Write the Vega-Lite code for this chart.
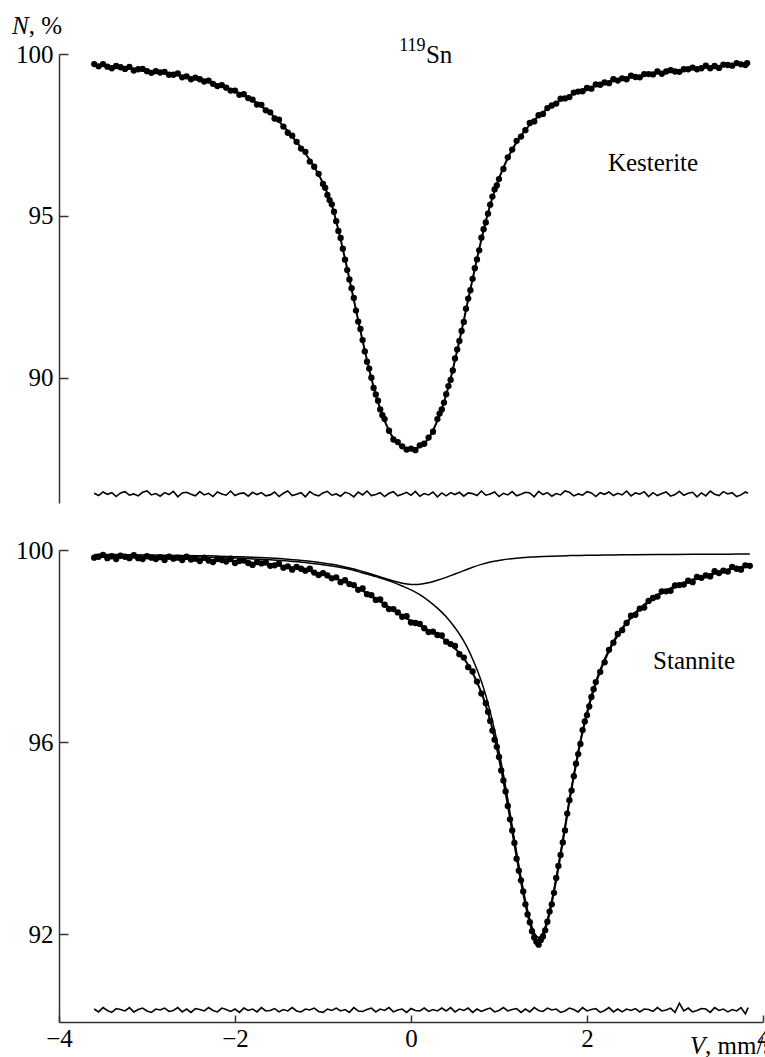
{
  "$schema": "https://vega.github.io/schema/vega-lite/v6.json",
  "background": "white",
  "padding": {"left": 12, "top": 13, "right": 0, "bottom": 0},
  "bounds": "flush",
  "spacing": 47,
  "config": {
    "font": "Liberation Serif",
    "view": {"stroke": null},
    "axis": {"grid": false, "domainColor": "#333333", "domainWidth": 1.5, "tickColor": "#333333", "tickWidth": 1.5, "labelColor": "black", "labelFont": "Liberation Serif", "labelFontSize": 25, "labelFlush": false, "labelOverlap": false, "title": null},
    "text": {"font": "Liberation Serif", "fontSize": 25, "color": "black", "baseline": "alphabetic"}
  },
  "datasets": {
    "topdata": [{"v":-3.6,"n":99.69},{"v":-3.55,"n":99.62},{"v":-3.5,"n":99.69},{"v":-3.45,"n":99.61},{"v":-3.4,"n":99.56},{"v":-3.35,"n":99.63},{"v":-3.3,"n":99.59},{"v":-3.25,"n":99.54},{"v":-3.2,"n":99.6},{"v":-3.15,"n":99.49},{"v":-3.1,"n":99.53},{"v":-3.05,"n":99.54},{"v":-3.0,"n":99.47},{"v":-2.95,"n":99.42},{"v":-2.9,"n":99.47},{"v":-2.85,"n":99.43},{"v":-2.8,"n":99.45},{"v":-2.75,"n":99.36},{"v":-2.7,"n":99.36},{"v":-2.65,"n":99.4},{"v":-2.6,"n":99.28},{"v":-2.55,"n":99.31},{"v":-2.5,"n":99.22},{"v":-2.45,"n":99.27},{"v":-2.4,"n":99.22},{"v":-2.35,"n":99.15},{"v":-2.3,"n":99.18},{"v":-2.25,"n":99.08},{"v":-2.2,"n":99.01},{"v":-2.15,"n":99.04},{"v":-2.1,"n":98.96},{"v":-2.05,"n":98.87},{"v":-2.0,"n":98.87},{"v":-1.95,"n":98.74},{"v":-1.9,"n":98.76},{"v":-1.85,"n":98.64},{"v":-1.8,"n":98.59},{"v":-1.75,"n":98.44},{"v":-1.7,"n":98.43},{"v":-1.65,"n":98.26},{"v":-1.6,"n":98.2},{"v":-1.55,"n":98.01},{"v":-1.5,"n":97.97},{"v":-1.45,"n":97.76},{"v":-1.4,"n":97.57},{"v":-1.35,"n":97.48},{"v":-1.3,"n":97.29},{"v":-1.25,"n":97.08},{"v":-1.2,"n":96.98},{"v":-1.15,"n":96.68},{"v":-1.1,"n":96.52},{"v":-1.05,"n":96.3},{"v":-1.0,"n":95.99},{"v":-0.975,"n":95.87},{"v":-0.95,"n":95.65},{"v":-0.925,"n":95.49},{"v":-0.9,"n":95.36},{"v":-0.875,"n":95.13},{"v":-0.85,"n":94.84},{"v":-0.825,"n":94.54},{"v":-0.8,"n":94.32},{"v":-0.775,"n":93.99},{"v":-0.75,"n":93.65},{"v":-0.725,"n":93.33},{"v":-0.7,"n":93.04},{"v":-0.675,"n":92.77},{"v":-0.65,"n":92.47},{"v":-0.625,"n":92.08},{"v":-0.6,"n":91.74},{"v":-0.575,"n":91.51},{"v":-0.55,"n":91.17},{"v":-0.525,"n":90.82},{"v":-0.5,"n":90.5},{"v":-0.475,"n":90.29},{"v":-0.45,"n":90.01},{"v":-0.425,"n":89.69},{"v":-0.4,"n":89.49},{"v":-0.375,"n":89.3},{"v":-0.35,"n":89.03},{"v":-0.325,"n":88.85},{"v":-0.3,"n":88.73},{"v":-0.25,"n":88.37},{"v":-0.2,"n":88.1},{"v":-0.15,"n":88.02},{"v":-0.1,"n":87.89},{"v":-0.05,"n":87.79},{"v":0,"n":87.82},{"v":0.05,"n":87.77},{"v":0.1,"n":87.92},{"v":0.15,"n":87.97},{"v":0.2,"n":88.16},{"v":0.25,"n":88.34},{"v":0.3,"n":88.73},{"v":0.325,"n":88.9},{"v":0.35,"n":89.03},{"v":0.375,"n":89.24},{"v":0.4,"n":89.5},{"v":0.425,"n":89.75},{"v":0.45,"n":89.94},{"v":0.475,"n":90.23},{"v":0.5,"n":90.6},{"v":0.525,"n":90.88},{"v":0.55,"n":91.14},{"v":0.575,"n":91.45},{"v":0.6,"n":91.73},{"v":0.625,"n":92.14},{"v":0.65,"n":92.45},{"v":0.675,"n":92.71},{"v":0.7,"n":93.06},{"v":0.725,"n":93.39},{"v":0.75,"n":93.66},{"v":0.775,"n":93.94},{"v":0.8,"n":94.33},{"v":0.825,"n":94.59},{"v":0.85,"n":94.8},{"v":0.875,"n":95.07},{"v":0.9,"n":95.35},{"v":0.925,"n":95.6},{"v":0.95,"n":95.82},{"v":0.975,"n":95.94},{"v":1.0,"n":96.14},{"v":1.05,"n":96.45},{"v":1.1,"n":96.81},{"v":1.15,"n":97.05},{"v":1.2,"n":97.32},{"v":1.25,"n":97.45},{"v":1.3,"n":97.65},{"v":1.35,"n":97.87},{"v":1.4,"n":97.92},{"v":1.45,"n":98.11},{"v":1.5,"n":98.15},{"v":1.55,"n":98.33},{"v":1.6,"n":98.41},{"v":1.65,"n":98.47},{"v":1.7,"n":98.62},{"v":1.75,"n":98.63},{"v":1.8,"n":98.67},{"v":1.85,"n":98.81},{"v":1.9,"n":98.84},{"v":1.95,"n":98.85},{"v":2.0,"n":98.95},{"v":2.05,"n":98.93},{"v":2.1,"n":99.06},{"v":2.15,"n":99.05},{"v":2.2,"n":99.12},{"v":2.25,"n":99.1},{"v":2.3,"n":99.22},{"v":2.35,"n":99.18},{"v":2.4,"n":99.25},{"v":2.45,"n":99.22},{"v":2.5,"n":99.33},{"v":2.55,"n":99.29},{"v":2.6,"n":99.28},{"v":2.65,"n":99.38},{"v":2.7,"n":99.38},{"v":2.75,"n":99.37},{"v":2.8,"n":99.46},{"v":2.85,"n":99.39},{"v":2.9,"n":99.46},{"v":2.95,"n":99.5},{"v":3.0,"n":99.46},{"v":3.05,"n":99.45},{"v":3.1,"n":99.53},{"v":3.15,"n":99.53},{"v":3.2,"n":99.58},{"v":3.25,"n":99.53},{"v":3.3,"n":99.56},{"v":3.35,"n":99.64},{"v":3.4,"n":99.56},{"v":3.45,"n":99.63},{"v":3.5,"n":99.57},{"v":3.55,"n":99.67},{"v":3.6,"n":99.66},{"v":3.65,"n":99.64},{"v":3.7,"n":99.72},{"v":3.75,"n":99.68},{"v":3.8,"n":99.66},{"v":3.82,"n":99.72}],
    "topfit": [{"v":-3.6,"n":99.67},{"v":-3.5,"n":99.64},{"v":-3.4,"n":99.61},{"v":-3.3,"n":99.58},{"v":-3.2,"n":99.55},{"v":-3.1,"n":99.52},{"v":-3.0,"n":99.49},{"v":-2.9,"n":99.45},{"v":-2.8,"n":99.41},{"v":-2.7,"n":99.37},{"v":-2.6,"n":99.32},{"v":-2.5,"n":99.27},{"v":-2.4,"n":99.21},{"v":-2.3,"n":99.13},{"v":-2.2,"n":99.05},{"v":-2.1,"n":98.95},{"v":-2.0,"n":98.85},{"v":-1.9,"n":98.72},{"v":-1.8,"n":98.57},{"v":-1.7,"n":98.38},{"v":-1.6,"n":98.18},{"v":-1.5,"n":97.92},{"v":-1.4,"n":97.62},{"v":-1.3,"n":97.28},{"v":-1.2,"n":96.93},{"v":-1.1,"n":96.51},{"v":-1.0,"n":96.01},{"v":-0.95,"n":95.7},{"v":-0.9,"n":95.34},{"v":-0.85,"n":94.84},{"v":-0.8,"n":94.28},{"v":-0.75,"n":93.68},{"v":-0.7,"n":93.05},{"v":-0.65,"n":92.42},{"v":-0.6,"n":91.78},{"v":-0.55,"n":91.15},{"v":-0.5,"n":90.55},{"v":-0.45,"n":89.98},{"v":-0.4,"n":89.48},{"v":-0.35,"n":89.05},{"v":-0.3,"n":88.68},{"v":-0.25,"n":88.38},{"v":-0.2,"n":88.14},{"v":-0.15,"n":87.98},{"v":-0.1,"n":87.88},{"v":-0.05,"n":87.82},{"v":0,"n":87.8},{"v":0.05,"n":87.82},{"v":0.1,"n":87.88},{"v":0.15,"n":87.98},{"v":0.2,"n":88.14},{"v":0.25,"n":88.38},{"v":0.3,"n":88.68},{"v":0.35,"n":89.05},{"v":0.4,"n":89.48},{"v":0.45,"n":89.98},{"v":0.5,"n":90.55},{"v":0.55,"n":91.15},{"v":0.6,"n":91.78},{"v":0.65,"n":92.42},{"v":0.7,"n":93.05},{"v":0.75,"n":93.68},{"v":0.8,"n":94.28},{"v":0.85,"n":94.84},{"v":0.9,"n":95.34},{"v":0.95,"n":95.78},{"v":1.0,"n":96.16},{"v":1.1,"n":96.79},{"v":1.2,"n":97.28},{"v":1.3,"n":97.66},{"v":1.4,"n":97.96},{"v":1.5,"n":98.2},{"v":1.6,"n":98.4},{"v":1.7,"n":98.57},{"v":1.8,"n":98.71},{"v":1.9,"n":98.83},{"v":2.0,"n":98.93},{"v":2.1,"n":99.02},{"v":2.2,"n":99.1},{"v":2.3,"n":99.17},{"v":2.4,"n":99.23},{"v":2.5,"n":99.28},{"v":2.6,"n":99.33},{"v":2.7,"n":99.37},{"v":2.8,"n":99.41},{"v":2.9,"n":99.45},{"v":3.0,"n":99.48},{"v":3.1,"n":99.51},{"v":3.2,"n":99.54},{"v":3.3,"n":99.57},{"v":3.4,"n":99.6},{"v":3.5,"n":99.625},{"v":3.6,"n":99.65},{"v":3.7,"n":99.675},{"v":3.82,"n":99.7}],
    "topres": [{"v":-3.6,"n":86.44},{"v":-3.55,"n":86.37},{"v":-3.5,"n":86.48},{"v":-3.45,"n":86.41},{"v":-3.4,"n":86.46},{"v":-3.35,"n":86.34},{"v":-3.3,"n":86.45},{"v":-3.25,"n":86.49},{"v":-3.2,"n":86.38},{"v":-3.15,"n":86.42},{"v":-3.1,"n":86.36},{"v":-3.05,"n":86.47},{"v":-3.0,"n":86.51},{"v":-2.95,"n":86.39},{"v":-2.9,"n":86.43},{"v":-2.85,"n":86.35},{"v":-2.8,"n":86.46},{"v":-2.75,"n":86.4},{"v":-2.7,"n":86.5},{"v":-2.65,"n":86.33},{"v":-2.6,"n":86.45},{"v":-2.55,"n":86.47},{"v":-2.5,"n":86.41},{"v":-2.45,"n":86.36},{"v":-2.4,"n":86.49},{"v":-2.35,"n":86.39},{"v":-2.3,"n":86.44},{"v":-2.25,"n":86.34},{"v":-2.2,"n":86.48},{"v":-2.15,"n":86.42},{"v":-2.1,"n":86.38},{"v":-2.05,"n":86.51},{"v":-2.0,"n":86.37},{"v":-1.95,"n":86.43},{"v":-1.9,"n":86.45},{"v":-1.85,"n":86.35},{"v":-1.8,"n":86.47},{"v":-1.75,"n":86.4},{"v":-1.7,"n":86.46},{"v":-1.65,"n":86.36},{"v":-1.6,"n":86.39},{"v":-1.55,"n":86.48},{"v":-1.5,"n":86.34},{"v":-1.45,"n":86.44},{"v":-1.4,"n":86.51},{"v":-1.35,"n":86.37},{"v":-1.3,"n":86.41},{"v":-1.25,"n":86.46},{"v":-1.2,"n":86.33},{"v":-1.15,"n":86.49},{"v":-1.1,"n":86.4},{"v":-1.05,"n":86.36},{"v":-1.0,"n":86.45},{"v":-0.95,"n":86.5},{"v":-0.9,"n":86.38},{"v":-0.85,"n":86.42},{"v":-0.8,"n":86.35},{"v":-0.75,"n":86.47},{"v":-0.7,"n":86.43},{"v":-0.65,"n":86.33},{"v":-0.6,"n":86.48},{"v":-0.55,"n":86.39},{"v":-0.5,"n":86.51},{"v":-0.45,"n":86.37},{"v":-0.4,"n":86.4},{"v":-0.35,"n":86.46},{"v":-0.3,"n":86.34},{"v":-0.25,"n":86.44},{"v":-0.2,"n":86.49},{"v":-0.15,"n":86.36},{"v":-0.1,"n":86.41},{"v":-0.05,"n":86.47},{"v":0,"n":86.38},{"v":0.05,"n":86.5},{"v":0.1,"n":86.35},{"v":0.15,"n":86.43},{"v":0.2,"n":86.39},{"v":0.25,"n":86.48},{"v":0.3,"n":86.33},{"v":0.35,"n":86.45},{"v":0.4,"n":86.36},{"v":0.45,"n":86.46},{"v":0.5,"n":86.4},{"v":0.55,"n":86.47},{"v":0.6,"n":86.35},{"v":0.65,"n":86.45},{"v":0.7,"n":86.43},{"v":0.75,"n":86.37},{"v":0.8,"n":86.51},{"v":0.85,"n":86.38},{"v":0.9,"n":86.42},{"v":0.95,"n":86.48},{"v":1.0,"n":86.34},{"v":1.05,"n":86.44},{"v":1.1,"n":86.39},{"v":1.15,"n":86.49},{"v":1.2,"n":86.36},{"v":1.25,"n":86.41},{"v":1.3,"n":86.47},{"v":1.35,"n":86.45},{"v":1.4,"n":86.33},{"v":1.45,"n":86.5},{"v":1.5,"n":86.4},{"v":1.55,"n":86.46},{"v":1.6,"n":86.35},{"v":1.65,"n":86.43},{"v":1.7,"n":86.39},{"v":1.75,"n":86.51},{"v":1.8,"n":86.47},{"v":1.85,"n":86.36},{"v":1.9,"n":86.42},{"v":1.95,"n":86.38},{"v":2.0,"n":86.49},{"v":2.05,"n":86.45},{"v":2.1,"n":86.34},{"v":2.15,"n":86.46},{"v":2.2,"n":86.41},{"v":2.25,"n":86.48},{"v":2.3,"n":86.37},{"v":2.35,"n":86.44},{"v":2.4,"n":86.39},{"v":2.45,"n":86.51},{"v":2.5,"n":86.36},{"v":2.55,"n":86.45},{"v":2.6,"n":86.41},{"v":2.65,"n":86.49},{"v":2.7,"n":86.34},{"v":2.75,"n":86.46},{"v":2.8,"n":86.37},{"v":2.85,"n":86.43},{"v":2.9,"n":86.48},{"v":2.95,"n":86.35},{"v":3.0,"n":86.4},{"v":3.05,"n":86.5},{"v":3.1,"n":86.38},{"v":3.15,"n":86.44},{"v":3.2,"n":86.47},{"v":3.25,"n":86.33},{"v":3.3,"n":86.45},{"v":3.35,"n":86.36},{"v":3.4,"n":86.51},{"v":3.45,"n":86.41},{"v":3.5,"n":86.37},{"v":3.55,"n":86.49},{"v":3.6,"n":86.42},{"v":3.65,"n":86.46},{"v":3.7,"n":86.34},{"v":3.75,"n":86.39},{"v":3.8,"n":86.48},{"v":3.83,"n":86.44}],
    "botdata": [{"v":-3.6,"n":99.84},{"v":-3.55,"n":99.86},{"v":-3.5,"n":99.9},{"v":-3.45,"n":99.83},{"v":-3.4,"n":99.87},{"v":-3.35,"n":99.81},{"v":-3.3,"n":99.88},{"v":-3.25,"n":99.86},{"v":-3.2,"n":99.83},{"v":-3.15,"n":99.89},{"v":-3.1,"n":99.83},{"v":-3.05,"n":99.81},{"v":-3.0,"n":99.87},{"v":-2.95,"n":99.84},{"v":-2.9,"n":99.81},{"v":-2.85,"n":99.85},{"v":-2.8,"n":99.79},{"v":-2.75,"n":99.86},{"v":-2.7,"n":99.82},{"v":-2.65,"n":99.84},{"v":-2.6,"n":99.79},{"v":-2.55,"n":99.86},{"v":-2.5,"n":99.8},{"v":-2.45,"n":99.82},{"v":-2.4,"n":99.77},{"v":-2.35,"n":99.84},{"v":-2.3,"n":99.78},{"v":-2.25,"n":99.75},{"v":-2.2,"n":99.81},{"v":-2.15,"n":99.79},{"v":-2.1,"n":99.76},{"v":-2.05,"n":99.82},{"v":-2.0,"n":99.73},{"v":-1.95,"n":99.77},{"v":-1.9,"n":99.78},{"v":-1.85,"n":99.73},{"v":-1.8,"n":99.69},{"v":-1.75,"n":99.75},{"v":-1.7,"n":99.72},{"v":-1.65,"n":99.74},{"v":-1.6,"n":99.67},{"v":-1.55,"n":99.68},{"v":-1.5,"n":99.72},{"v":-1.45,"n":99.63},{"v":-1.4,"n":99.66},{"v":-1.35,"n":99.59},{"v":-1.3,"n":99.65},{"v":-1.25,"n":99.61},{"v":-1.2,"n":99.57},{"v":-1.15,"n":99.61},{"v":-1.1,"n":99.53},{"v":-1.05,"n":99.48},{"v":-1.0,"n":99.52},{"v":-0.95,"n":99.47},{"v":-0.9,"n":99.41},{"v":-0.85,"n":99.43},{"v":-0.8,"n":99.33},{"v":-0.75,"n":99.37},{"v":-0.7,"n":99.29},{"v":-0.65,"n":99.27},{"v":-0.6,"n":99.17},{"v":-0.55,"n":99.2},{"v":-0.5,"n":99.08},{"v":-0.45,"n":99.06},{"v":-0.4,"n":98.96},{"v":-0.35,"n":98.97},{"v":-0.3,"n":98.86},{"v":-0.25,"n":98.77},{"v":-0.2,"n":98.77},{"v":-0.15,"n":98.7},{"v":-0.1,"n":98.61},{"v":-0.05,"n":98.62},{"v":0,"n":98.49},{"v":0.05,"n":98.48},{"v":0.1,"n":98.46},{"v":0.15,"n":98.37},{"v":0.2,"n":98.29},{"v":0.25,"n":98.3},{"v":0.3,"n":98.23},{"v":0.35,"n":98.22},{"v":0.4,"n":98.09},{"v":0.45,"n":98.04},{"v":0.5,"n":98.0},{"v":0.55,"n":97.83},{"v":0.6,"n":97.76},{"v":0.65,"n":97.56},{"v":0.7,"n":97.47},{"v":0.75,"n":97.26},{"v":0.8,"n":97.01},{"v":0.85,"n":96.81},{"v":0.875,"n":96.63},{"v":0.9,"n":96.44},{"v":0.925,"n":96.24},{"v":0.95,"n":96.05},{"v":0.975,"n":95.9},{"v":1.0,"n":95.69},{"v":1.025,"n":95.41},{"v":1.05,"n":95.2},{"v":1.075,"n":94.97},{"v":1.1,"n":94.67},{"v":1.125,"n":94.39},{"v":1.15,"n":94.16},{"v":1.175,"n":93.9},{"v":1.2,"n":93.57},{"v":1.225,"n":93.32},{"v":1.25,"n":93.12},{"v":1.275,"n":92.89},{"v":1.3,"n":92.62},{"v":1.325,"n":92.41},{"v":1.35,"n":92.25},{"v":1.375,"n":92.06},{"v":1.4,"n":91.93},{"v":1.425,"n":91.84},{"v":1.45,"n":91.78},{"v":1.475,"n":91.88},{"v":1.5,"n":91.95},{"v":1.525,"n":92.08},{"v":1.55,"n":92.26},{"v":1.575,"n":92.47},{"v":1.6,"n":92.62},{"v":1.625,"n":92.86},{"v":1.65,"n":93.17},{"v":1.675,"n":93.42},{"v":1.7,"n":93.65},{"v":1.725,"n":93.91},{"v":1.75,"n":94.16},{"v":1.775,"n":94.51},{"v":1.8,"n":94.79},{"v":1.825,"n":94.99},{"v":1.85,"n":95.29},{"v":1.875,"n":95.55},{"v":1.9,"n":95.75},{"v":1.925,"n":95.96},{"v":1.95,"n":96.25},{"v":1.975,"n":96.43},{"v":2.0,"n":96.56},{"v":2.025,"n":96.74},{"v":2.05,"n":96.94},{"v":2.075,"n":97.1},{"v":2.1,"n":97.25},{"v":2.15,"n":97.46},{"v":2.2,"n":97.66},{"v":2.25,"n":97.92},{"v":2.3,"n":98.07},{"v":2.35,"n":98.25},{"v":2.4,"n":98.33},{"v":2.45,"n":98.48},{"v":2.5,"n":98.63},{"v":2.55,"n":98.65},{"v":2.6,"n":98.78},{"v":2.65,"n":98.8},{"v":2.7,"n":98.94},{"v":2.75,"n":99.0},{"v":2.8,"n":99.03},{"v":2.85,"n":99.14},{"v":2.9,"n":99.14},{"v":2.95,"n":99.15},{"v":3.0,"n":99.26},{"v":3.05,"n":99.27},{"v":3.1,"n":99.28},{"v":3.15,"n":99.36},{"v":3.2,"n":99.33},{"v":3.25,"n":99.44},{"v":3.3,"n":99.42},{"v":3.35,"n":99.47},{"v":3.4,"n":99.45},{"v":3.45,"n":99.56},{"v":3.5,"n":99.52},{"v":3.55,"n":99.57},{"v":3.6,"n":99.55},{"v":3.65,"n":99.65},{"v":3.7,"n":99.61},{"v":3.75,"n":99.59},{"v":3.8,"n":99.68},{"v":3.85,"n":99.67}],
    "botfit": [{"v":-3.6,"n":99.862},{"v":-3.4,"n":99.855},{"v":-3.2,"n":99.848},{"v":-3.0,"n":99.84},{"v":-2.8,"n":99.83},{"v":-2.6,"n":99.82},{"v":-2.4,"n":99.803},{"v":-2.2,"n":99.785},{"v":-2.0,"n":99.764},{"v":-1.8,"n":99.734},{"v":-1.6,"n":99.696},{"v":-1.4,"n":99.649},{"v":-1.2,"n":99.585},{"v":-1.0,"n":99.492},{"v":-0.9,"n":99.436},{"v":-0.8,"n":99.372},{"v":-0.7,"n":99.297},{"v":-0.6,"n":99.201},{"v":-0.5,"n":99.098},{"v":-0.4,"n":98.985},{"v":-0.3,"n":98.87},{"v":-0.2,"n":98.749},{"v":-0.1,"n":98.629},{"v":0,"n":98.523},{"v":0.1,"n":98.425},{"v":0.2,"n":98.33},{"v":0.3,"n":98.23},{"v":0.4,"n":98.11},{"v":0.5,"n":97.95},{"v":0.55,"n":97.855},{"v":0.6,"n":97.74},{"v":0.65,"n":97.605},{"v":0.7,"n":97.44},{"v":0.75,"n":97.25},{"v":0.8,"n":97.03},{"v":0.85,"n":96.765},{"v":0.9,"n":96.45},{"v":0.95,"n":96.085},{"v":1.0,"n":95.66},{"v":1.05,"n":95.195},{"v":1.1,"n":94.69},{"v":1.15,"n":94.14},{"v":1.2,"n":93.61},{"v":1.25,"n":93.088},{"v":1.3,"n":92.625},{"v":1.35,"n":92.23},{"v":1.4,"n":91.955},{"v":1.45,"n":91.86},{"v":1.5,"n":91.965},{"v":1.55,"n":92.248},{"v":1.6,"n":92.652},{"v":1.65,"n":93.125},{"v":1.7,"n":93.658},{"v":1.75,"n":94.2},{"v":1.8,"n":94.763},{"v":1.85,"n":95.285},{"v":1.9,"n":95.767},{"v":1.95,"n":96.209},{"v":2.0,"n":96.59},{"v":2.05,"n":96.931},{"v":2.1,"n":97.223},{"v":2.15,"n":97.474},{"v":2.2,"n":97.695},{"v":2.25,"n":97.896},{"v":2.3,"n":98.068},{"v":2.35,"n":98.219},{"v":2.4,"n":98.35},{"v":2.45,"n":98.481},{"v":2.5,"n":98.581},{"v":2.6,"n":98.763},{"v":2.7,"n":98.915},{"v":2.8,"n":99.046},{"v":2.9,"n":99.147},{"v":3.0,"n":99.228},{"v":3.1,"n":99.304},{"v":3.2,"n":99.37},{"v":3.3,"n":99.426},{"v":3.4,"n":99.482},{"v":3.5,"n":99.533},{"v":3.6,"n":99.584},{"v":3.7,"n":99.62},{"v":3.85,"n":99.665}],
    "botmain": [{"v":-3.6,"n":99.885},{"v":-3.4,"n":99.881},{"v":-3.2,"n":99.877},{"v":-3.0,"n":99.872},{"v":-2.8,"n":99.867},{"v":-2.6,"n":99.862},{"v":-2.4,"n":99.852},{"v":-2.2,"n":99.842},{"v":-2.0,"n":99.832},{"v":-1.8,"n":99.815},{"v":-1.6,"n":99.795},{"v":-1.4,"n":99.772},{"v":-1.2,"n":99.74},{"v":-1.0,"n":99.692},{"v":-0.9,"n":99.665},{"v":-0.8,"n":99.635},{"v":-0.7,"n":99.6},{"v":-0.6,"n":99.55},{"v":-0.5,"n":99.5},{"v":-0.4,"n":99.445},{"v":-0.3,"n":99.39},{"v":-0.2,"n":99.325},{"v":-0.1,"n":99.25},{"v":0,"n":99.17},{"v":0.1,"n":99.07},{"v":0.2,"n":98.94},{"v":0.3,"n":98.79},{"v":0.4,"n":98.61},{"v":0.5,"n":98.38},{"v":0.55,"n":98.25},{"v":0.6,"n":98.1},{"v":0.65,"n":97.93},{"v":0.7,"n":97.73},{"v":0.75,"n":97.51},{"v":0.8,"n":97.26},{"v":0.85,"n":96.97},{"v":0.9,"n":96.63},{"v":0.95,"n":96.25},{"v":1.0,"n":95.81},{"v":1.05,"n":95.33},{"v":1.1,"n":94.81},{"v":1.15,"n":94.25},{"v":1.2,"n":93.71},{"v":1.25,"n":93.18},{"v":1.3,"n":92.71},{"v":1.35,"n":92.31},{"v":1.4,"n":92.03},{"v":1.45,"n":91.93},{"v":1.5,"n":92.03},{"v":1.55,"n":92.31},{"v":1.6,"n":92.71},{"v":1.65,"n":93.18},{"v":1.7,"n":93.71},{"v":1.75,"n":94.25},{"v":1.8,"n":94.81},{"v":1.85,"n":95.33},{"v":1.9,"n":95.81},{"v":1.95,"n":96.25},{"v":2.0,"n":96.63},{"v":2.05,"n":96.97},{"v":2.1,"n":97.26},{"v":2.15,"n":97.51},{"v":2.2,"n":97.73},{"v":2.25,"n":97.93},{"v":2.3,"n":98.1},{"v":2.35,"n":98.25},{"v":2.4,"n":98.38},{"v":2.5,"n":98.61},{"v":2.6,"n":98.79},{"v":2.7,"n":98.94},{"v":2.8,"n":99.07},{"v":2.9,"n":99.17},{"v":3.0,"n":99.25},{"v":3.1,"n":99.325},{"v":3.2,"n":99.39},{"v":3.3,"n":99.445},{"v":3.4,"n":99.5},{"v":3.5,"n":99.55},{"v":3.6,"n":99.6},{"v":3.7,"n":99.635},{"v":3.8,"n":99.665},{"v":3.85,"n":99.68}],
    "botbroad": [{"v":-3.6,"n":99.907},{"v":-3.2,"n":99.901},{"v":-2.8,"n":99.893},{"v":-2.4,"n":99.881},{"v":-2.2,"n":99.873},{"v":-2.0,"n":99.862},{"v":-1.8,"n":99.849},{"v":-1.6,"n":99.831},{"v":-1.4,"n":99.807},{"v":-1.2,"n":99.775},{"v":-1.1,"n":99.754},{"v":-1.0,"n":99.73},{"v":-0.9,"n":99.701},{"v":-0.8,"n":99.667},{"v":-0.7,"n":99.627},{"v":-0.6,"n":99.581},{"v":-0.5,"n":99.528},{"v":-0.4,"n":99.47},{"v":-0.3,"n":99.41},{"v":-0.2,"n":99.354},{"v":-0.1,"n":99.309},{"v":0,"n":99.283},{"v":0.05,"n":99.28},{"v":0.1,"n":99.285},{"v":0.2,"n":99.32},{"v":0.3,"n":99.37},{"v":0.4,"n":99.43},{"v":0.5,"n":99.5},{"v":0.6,"n":99.57},{"v":0.7,"n":99.64},{"v":0.8,"n":99.7},{"v":0.9,"n":99.75},{"v":1.0,"n":99.78},{"v":1.1,"n":99.81},{"v":1.2,"n":99.83},{"v":1.3,"n":99.845},{"v":1.4,"n":99.855},{"v":1.5,"n":99.865},{"v":1.6,"n":99.872},{"v":1.8,"n":99.883},{"v":2.0,"n":99.89},{"v":2.2,"n":99.895},{"v":2.4,"n":99.9},{"v":2.8,"n":99.906},{"v":3.2,"n":99.91},{"v":3.6,"n":99.914},{"v":3.85,"n":99.915}],
    "botres": [{"v":-3.6,"n":90.44},{"v":-3.55,"n":90.38},{"v":-3.5,"n":90.47},{"v":-3.45,"n":90.41},{"v":-3.4,"n":90.37},{"v":-3.35,"n":90.45},{"v":-3.3,"n":90.43},{"v":-3.25,"n":90.4},{"v":-3.2,"n":90.47},{"v":-3.15,"n":90.38},{"v":-3.1,"n":90.43},{"v":-3.05,"n":90.46},{"v":-3.0,"n":90.4},{"v":-2.95,"n":90.37},{"v":-2.9,"n":90.44},{"v":-2.85,"n":90.42},{"v":-2.8,"n":90.46},{"v":-2.75,"n":90.39},{"v":-2.7,"n":90.41},{"v":-2.65,"n":90.47},{"v":-2.6,"n":90.38},{"v":-2.55,"n":90.44},{"v":-2.5,"n":90.37},{"v":-2.45,"n":90.45},{"v":-2.4,"n":90.43},{"v":-2.35,"n":90.4},{"v":-2.3,"n":90.47},{"v":-2.25,"n":90.41},{"v":-2.2,"n":90.38},{"v":-2.15,"n":90.46},{"v":-2.1,"n":90.43},{"v":-2.05,"n":90.39},{"v":-2.0,"n":90.44},{"v":-1.95,"n":90.37},{"v":-1.9,"n":90.46},{"v":-1.85,"n":90.41},{"v":-1.8,"n":90.44},{"v":-1.75,"n":90.38},{"v":-1.7,"n":90.47},{"v":-1.65,"n":90.4},{"v":-1.6,"n":90.41},{"v":-1.55,"n":90.45},{"v":-1.5,"n":90.38},{"v":-1.45,"n":90.43},{"v":-1.4,"n":90.4},{"v":-1.35,"n":90.47},{"v":-1.3,"n":90.4},{"v":-1.25,"n":90.38},{"v":-1.2,"n":90.44},{"v":-1.15,"n":90.42},{"v":-1.1,"n":90.46},{"v":-1.05,"n":90.39},{"v":-1.0,"n":90.37},{"v":-0.95,"n":90.44},{"v":-0.9,"n":90.41},{"v":-0.85,"n":90.46},{"v":-0.8,"n":90.4},{"v":-0.75,"n":90.43},{"v":-0.7,"n":90.37},{"v":-0.65,"n":90.47},{"v":-0.6,"n":90.4},{"v":-0.55,"n":90.39},{"v":-0.5,"n":90.43},{"v":-0.45,"n":90.46},{"v":-0.4,"n":90.38},{"v":-0.35,"n":90.44},{"v":-0.3,"n":90.41},{"v":-0.25,"n":90.47},{"v":-0.2,"n":90.38},{"v":-0.15,"n":90.42},{"v":-0.1,"n":90.44},{"v":-0.05,"n":90.37},{"v":0,"n":90.45},{"v":0.05,"n":90.41},{"v":0.1,"n":90.4},{"v":0.15,"n":90.46},{"v":0.2,"n":90.39},{"v":0.25,"n":90.43},{"v":0.3,"n":90.4},{"v":0.35,"n":90.46},{"v":0.4,"n":90.4},{"v":0.45,"n":90.47},{"v":0.5,"n":90.38},{"v":0.55,"n":90.44},{"v":0.6,"n":90.41},{"v":0.65,"n":90.46},{"v":0.7,"n":90.37},{"v":0.75,"n":90.44},{"v":0.8,"n":90.39},{"v":0.85,"n":90.43},{"v":0.9,"n":90.46},{"v":0.95,"n":90.38},{"v":1.0,"n":90.41},{"v":1.05,"n":90.47},{"v":1.1,"n":90.4},{"v":1.15,"n":90.43},{"v":1.2,"n":90.45},{"v":1.25,"n":90.37},{"v":1.3,"n":90.44},{"v":1.35,"n":90.38},{"v":1.4,"n":90.47},{"v":1.45,"n":90.41},{"v":1.5,"n":90.39},{"v":1.55,"n":90.46},{"v":1.6,"n":90.42},{"v":1.65,"n":90.44},{"v":1.7,"n":90.37},{"v":1.75,"n":90.4},{"v":1.8,"n":90.46},{"v":1.85,"n":90.43},{"v":1.9,"n":90.38},{"v":1.95,"n":90.47},{"v":2.0,"n":90.4},{"v":2.05,"n":90.43},{"v":2.1,"n":90.45},{"v":2.15,"n":90.37},{"v":2.2,"n":90.41},{"v":2.25,"n":90.47},{"v":2.3,"n":90.38},{"v":2.35,"n":90.44},{"v":2.4,"n":90.38},{"v":2.45,"n":90.44},{"v":2.5,"n":90.41},{"v":2.55,"n":90.45},{"v":2.6,"n":90.38},{"v":2.65,"n":90.44},{"v":2.7,"n":90.43},{"v":2.75,"n":90.39},{"v":2.8,"n":90.47},{"v":2.85,"n":90.4},{"v":2.9,"n":90.42},{"v":2.95,"n":90.46},{"v":3.0,"n":90.37},{"v":3.05,"n":90.56},{"v":3.1,"n":90.4},{"v":3.15,"n":90.46},{"v":3.2,"n":90.38},{"v":3.25,"n":90.41},{"v":3.3,"n":90.45},{"v":3.35,"n":90.44},{"v":3.4,"n":90.37},{"v":3.45,"n":90.47},{"v":3.5,"n":90.41},{"v":3.55,"n":90.44},{"v":3.6,"n":90.38},{"v":3.65,"n":90.43},{"v":3.7,"n":90.4},{"v":3.75,"n":90.47},{"v":3.8,"n":90.34},{"v":3.83,"n":90.47}]
  },
  "vconcat": [
    {
      "width": 704,
      "height": 449,
      "layer": [
        {"data": {"name": "topfit"}, "mark": {"type": "line", "color": "black", "strokeWidth": 2, "interpolate": "monotone"},
         "encoding": {"x": {"field": "v", "type": "quantitative", "scale": {"domain": [-4, 4], "nice": false}, "axis": null},
                      "y": {"field": "n", "type": "quantitative", "scale": {"domain": [86.14, 100], "nice": false, "zero": false}, "axis": {"values": [90, 95, 100], "tickSize": -9, "labelPadding": 15}}}},
        {"data": {"name": "topdata"}, "mark": {"type": "circle", "color": "black", "opacity": 1, "size": 40},
         "encoding": {"x": {"field": "v", "type": "quantitative", "scale": {"domain": [-4, 4], "nice": false}, "axis": null},
                      "y": {"field": "n", "type": "quantitative", "scale": {"domain": [86.14, 100], "nice": false, "zero": false}, "axis": {"values": [90, 95, 100], "tickSize": -9, "labelPadding": 15}}}},
        {"data": {"name": "topres"}, "mark": {"type": "line", "color": "black", "strokeWidth": 1.6},
         "encoding": {"x": {"field": "v", "type": "quantitative", "scale": {"domain": [-4, 4], "nice": false}, "axis": null},
                      "y": {"field": "n", "type": "quantitative", "scale": {"domain": [86.14, 100], "nice": false, "zero": false}, "axis": {"values": [90, 95, 100], "tickSize": -9, "labelPadding": 15}}}},
        {"data": {"values": [{}]}, "mark": {"type": "text", "align": "center"},
         "encoding": {"x": {"datum": 2.75, "type": "quantitative", "scale": {"domain": [-4, 4], "nice": false}, "axis": null},
                      "y": {"datum": 96.39, "type": "quantitative", "scale": {"domain": [86.14, 100], "nice": false, "zero": false}, "axis": {"values": [90, 95, 100], "tickSize": -9, "labelPadding": 15}},
                      "text": {"value": "Kesterite"}}},
        {"data": {"values": [{}]}, "mark": {"type": "text", "align": "left"},
         "encoding": {"x": {"datum": 0.17, "type": "quantitative", "scale": {"domain": [-4, 4], "nice": false}, "axis": null},
                      "y": {"datum": 99.72, "type": "quantitative", "scale": {"domain": [86.14, 100], "nice": false, "zero": false}, "axis": {"values": [90, 95, 100], "tickSize": -9, "labelPadding": 15}},
                      "text": {"value": "Sn"}}},
        {"data": {"values": [{}]}, "mark": {"type": "text", "align": "right", "fontSize": 18},
         "encoding": {"x": {"datum": 0.165, "type": "quantitative", "scale": {"domain": [-4, 4], "nice": false}, "axis": null},
                      "y": {"datum": 100.1, "type": "quantitative", "scale": {"domain": [86.14, 100], "nice": false, "zero": false}, "axis": {"values": [90, 95, 100], "tickSize": -9, "labelPadding": 15}},
                      "text": {"value": "119"}}},
        {"data": {"values": [{}]}, "mark": {"type": "text", "align": "left", "fontStyle": "italic"},
         "encoding": {"x": {"datum": -4.534, "type": "quantitative", "scale": {"domain": [-4, 4], "nice": false}, "axis": null},
                      "y": {"datum": 100.62, "type": "quantitative", "scale": {"domain": [86.14, 100], "nice": false, "zero": false}, "axis": {"values": [90, 95, 100], "tickSize": -9, "labelPadding": 15}},
                      "text": {"value": "N"}}},
        {"data": {"values": [{}]}, "mark": {"type": "text", "align": "left"},
         "encoding": {"x": {"datum": -4.344, "type": "quantitative", "scale": {"domain": [-4, 4], "nice": false}, "axis": null},
                      "y": {"datum": 100.62, "type": "quantitative", "scale": {"domain": [86.14, 100], "nice": false, "zero": false}, "axis": {"values": [90, 95, 100], "tickSize": -9, "labelPadding": 15}},
                      "text": {"value": ", %"}}}
      ]
    },
    {
      "width": 704,
      "height": 472,
      "layer": [
        {"data": {"name": "botbroad"}, "mark": {"type": "line", "color": "black", "strokeWidth": 1.5, "interpolate": "monotone"},
         "encoding": {"x": {"field": "v", "type": "quantitative", "scale": {"domain": [-4, 4], "nice": false}, "axis": {"values": [-4, -2, 0, 2, 4], "tickSize": -7, "labelPadding": 11}},
                      "y": {"field": "n", "type": "quantitative", "scale": {"domain": [90.17, 100], "nice": false, "zero": false}, "axis": {"values": [92, 96, 100], "tickSize": -9, "labelPadding": 15}}}},
        {"data": {"name": "botmain"}, "mark": {"type": "line", "color": "black", "strokeWidth": 1.5, "interpolate": "monotone"},
         "encoding": {"x": {"field": "v", "type": "quantitative", "scale": {"domain": [-4, 4], "nice": false}, "axis": {"values": [-4, -2, 0, 2, 4], "tickSize": -7, "labelPadding": 11}},
                      "y": {"field": "n", "type": "quantitative", "scale": {"domain": [90.17, 100], "nice": false, "zero": false}, "axis": {"values": [92, 96, 100], "tickSize": -9, "labelPadding": 15}}}},
        {"data": {"name": "botfit"}, "mark": {"type": "line", "color": "black", "strokeWidth": 2, "interpolate": "monotone"},
         "encoding": {"x": {"field": "v", "type": "quantitative", "scale": {"domain": [-4, 4], "nice": false}, "axis": {"values": [-4, -2, 0, 2, 4], "tickSize": -7, "labelPadding": 11}},
                      "y": {"field": "n", "type": "quantitative", "scale": {"domain": [90.17, 100], "nice": false, "zero": false}, "axis": {"values": [92, 96, 100], "tickSize": -9, "labelPadding": 15}}}},
        {"data": {"name": "botdata"}, "mark": {"type": "circle", "color": "black", "opacity": 1, "size": 40},
         "encoding": {"x": {"field": "v", "type": "quantitative", "scale": {"domain": [-4, 4], "nice": false}, "axis": {"values": [-4, -2, 0, 2, 4], "tickSize": -7, "labelPadding": 11}},
                      "y": {"field": "n", "type": "quantitative", "scale": {"domain": [90.17, 100], "nice": false, "zero": false}, "axis": {"values": [92, 96, 100], "tickSize": -9, "labelPadding": 15}}}},
        {"data": {"name": "botres"}, "mark": {"type": "line", "color": "black", "strokeWidth": 1.6},
         "encoding": {"x": {"field": "v", "type": "quantitative", "scale": {"domain": [-4, 4], "nice": false}, "axis": {"values": [-4, -2, 0, 2, 4], "tickSize": -7, "labelPadding": 11}},
                      "y": {"field": "n", "type": "quantitative", "scale": {"domain": [90.17, 100], "nice": false, "zero": false}, "axis": {"values": [92, 96, 100], "tickSize": -9, "labelPadding": 15}}}},
        {"data": {"values": [{}]}, "mark": {"type": "text", "align": "center"},
         "encoding": {"x": {"datum": 3.216, "type": "quantitative", "scale": {"domain": [-4, 4], "nice": false}, "axis": {"values": [-4, -2, 0, 2, 4], "tickSize": -7, "labelPadding": 11}},
                      "y": {"datum": 97.52, "type": "quantitative", "scale": {"domain": [90.17, 100], "nice": false, "zero": false}, "axis": {"values": [92, 96, 100], "tickSize": -9, "labelPadding": 15}},
                      "text": {"value": "Stannite"}}},
        {"data": {"values": [{}]}, "mark": {"type": "text", "align": "left", "fontStyle": "italic"},
         "encoding": {"x": {"datum": 3.17, "type": "quantitative", "scale": {"domain": [-4, 4], "nice": false}, "axis": {"values": [-4, -2, 0, 2, 4], "tickSize": -7, "labelPadding": 11}},
                      "y": {"datum": 89.5, "type": "quantitative", "scale": {"domain": [90.17, 100], "nice": false, "zero": false}, "axis": {"values": [92, 96, 100], "tickSize": -9, "labelPadding": 15}},
                      "text": {"value": "V"}}},
        {"data": {"values": [{}]}, "mark": {"type": "text", "align": "left"},
         "encoding": {"x": {"datum": 3.341, "type": "quantitative", "scale": {"domain": [-4, 4], "nice": false}, "axis": {"values": [-4, -2, 0, 2, 4], "tickSize": -7, "labelPadding": 11}},
                      "y": {"datum": 89.5, "type": "quantitative", "scale": {"domain": [90.17, 100], "nice": false, "zero": false}, "axis": {"values": [92, 96, 100], "tickSize": -9, "labelPadding": 15}},
                      "text": {"value": ", mm/s"}}}
      ]
    }
  ]
}
